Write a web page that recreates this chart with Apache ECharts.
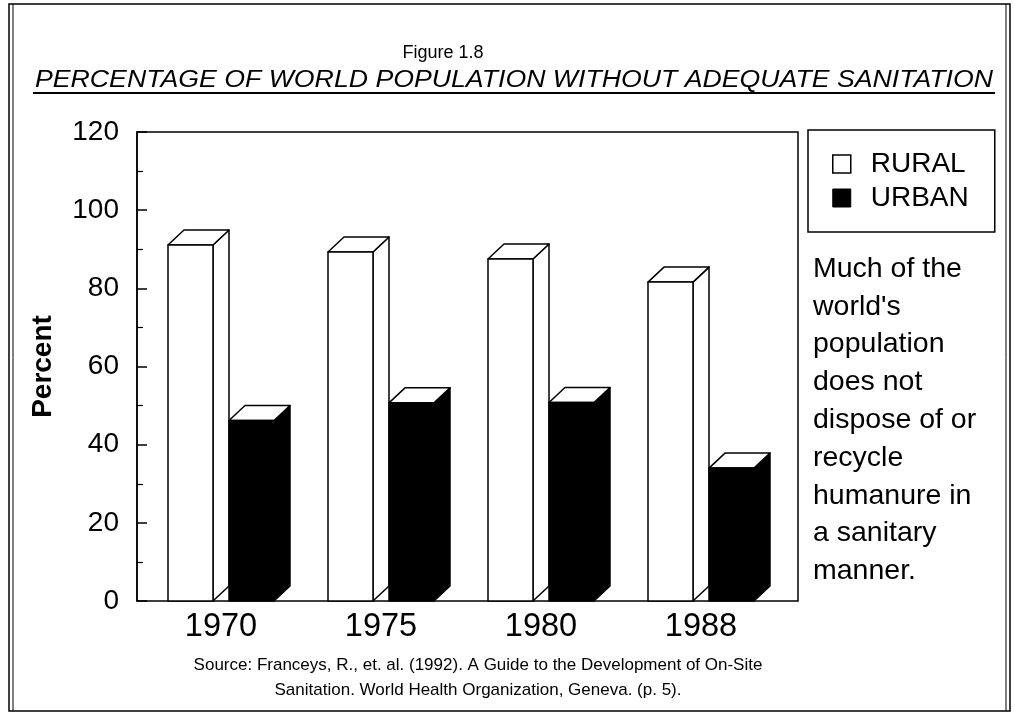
<!DOCTYPE html>
<html lang="en">
<head>
  <meta charset="UTF-8">
  <title>Figure 1.8</title>
  <style>
    html, body { margin: 0; padding: 0; background: #fff; }
  </style>
</head>
<body>
<div id="main" style="width: 1015px;height: 714px"></div>
<script type="text/javascript" src="https://cdn.jsdelivr.net/npm/echarts@6/dist/echarts.min.js"></script>

<script>
var years = ['1970', '1975', '1980', '1988'];
var rural = [91.1, 89.3, 87.5, 81.6];
var urban = [46.2, 50.7, 50.8, 34.0];
var seriesNames = ['RURAL', 'URBAN'];
var note = ['Much of the', "world's", 'population', 'does not', 'dispose of or',
  'recycle', 'humanure in', 'a sanitary', 'manner.'];

var FONT = "'Liberation Sans', Arial, sans-serif";
var BAR_W = 45, DX = 16, DY = 15;

// one pseudo-3D box: side, top and front faces
function box(x, yTop, yBase, frontColor, sideColor, topColor) {
  var st = { stroke: '#000', lineWidth: 1.5, lineJoin: 'round' };
  return [
    { type: 'polygon', shape: { points: [[x + BAR_W, yBase], [x + BAR_W + DX, yBase - DY], [x + BAR_W + DX, yTop - DY], [x + BAR_W, yTop]] },
      style: Object.assign({ fill: sideColor }, st) },
    { type: 'polygon', shape: { points: [[x, yTop], [x + DX, yTop - DY], [x + BAR_W + DX, yTop - DY], [x + BAR_W, yTop]] },
      style: Object.assign({ fill: topColor }, st) },
    { type: 'rect', shape: { x: x, y: yTop, width: BAR_W, height: yBase - yTop },
      style: Object.assign({ fill: frontColor }, st) }
  ];
}

function makeRender(shift, front, side, top) {
  return function (params, api) {
    var p = api.coord([api.value(0), api.value(1)]);
    var base = api.coord([api.value(0), 0]);
    return { type: 'group', children: box(p[0] + shift, p[1], base[1], front, side, top) };
  };
}

var option = {
  animation: false,
  textStyle: { fontFamily: FONT, color: '#000' },
  title: [
    { text: 'Figure 1.8', left: 438, top: 39, textAlign: 'center',
      textStyle: { fontSize: 18, fontWeight: 'normal', fontFamily: FONT, color: '#000' } }
  ],
  legend: {
    orient: 'vertical',
    left: 808, top: 130,
    padding: [20, 26, 20, 24],
    borderColor: '#000', borderWidth: 1.5,
    itemWidth: 18, itemHeight: 18, itemGap: 6,
    textStyle: { fontSize: 28, lineHeight: 28, fontFamily: FONT, color: '#000', padding: [0, 0, 0, 15] },
    data: [
      { name: seriesNames[0], icon: 'rect', itemStyle: { color: '#fff', borderColor: '#000', borderWidth: 1.5 } },
      { name: seriesNames[1], icon: 'rect', itemStyle: { color: '#000', borderColor: '#000', borderWidth: 1 } }
    ]
  },
  grid: [
    { left: 137, top: 132, width: 661, height: 469, show: true, borderColor: '#000', borderWidth: 1.5 },
    { left: 141, top: 132, width: 640, height: 469 }
  ],
  xAxis: [
    { gridIndex: 0, type: 'category', data: years, show: false },
    { gridIndex: 1, type: 'category', data: years,
      axisLine: { show: false }, axisTick: { show: false },
      axisLabel: { fontSize: 32.5, margin: 10, color: '#000', fontFamily: FONT } }
  ],
  yAxis: [
    { gridIndex: 0, type: 'value', min: 0, max: 120, interval: 20,
      name: 'Percent', nameLocation: 'middle', nameGap: 80, nameRotate: 90,
      nameTextStyle: { fontSize: 28, fontWeight: 'bold', fontFamily: FONT, color: '#000' },
      axisLine: { show: true, lineStyle: { color: '#000', width: 1.5 } },
      axisTick: { show: true, inside: true, length: 10, lineStyle: { color: '#000', width: 1.5 } },
      minorTick: { show: true, splitNumber: 2, length: 6, lineStyle: { color: '#000', width: 1.2 } },
      splitLine: { show: false },
      axisLabel: { fontSize: 28, margin: 18, color: '#000', fontFamily: FONT } },
    { gridIndex: 1, type: 'value', min: 0, max: 120, show: false }
  ],
  series: [
    { name: seriesNames[0], type: 'custom', xAxisIndex: 1, yAxisIndex: 1,
      itemStyle: { color: '#fff', borderColor: '#000' },
      renderItem: makeRender(-53, '#fff', '#fff', '#fff'),
      data: years.map(function (y, i) { return [i, rural[i]]; }) },
    { name: seriesNames[1], type: 'custom', xAxisIndex: 1, yAxisIndex: 1,
      itemStyle: { color: '#000' },
      renderItem: makeRender(8, '#000', '#000', '#fff'),
      data: years.map(function (y, i) { return [i, urban[i]]; }) }
  ],
  graphic: [
    { type: 'rect', shape: { x: 9, y: 4, width: 1001, height: 707 }, style: { fill: null, stroke: '#000', lineWidth: 1.5 } },
    { type: 'line', shape: { x1: 13, y1: 4, x2: 13, y2: 711 }, style: { stroke: '#000', lineWidth: 1 } },
    { type: 'line', shape: { x1: 1006, y1: 4, x2: 1006, y2: 711 }, style: { stroke: '#000', lineWidth: 1 } },
    { type: 'text', x: 514, y: 81, scaleX: 1.16,
      style: { text: 'PERCENTAGE OF WORLD POPULATION WITHOUT ADEQUATE SANITATION', fontSize: 23,
        fontStyle: 'italic', fontFamily: FONT, fill: '#000', align: 'center', verticalAlign: 'middle' } },
    { type: 'line', shape: { x1: 33, y1: 93, x2: 995, y2: 93 }, style: { stroke: '#000', lineWidth: 1.8 } },
    { type: 'text', left: 813, top: 250,
      style: { text: note.join('\n'), fontSize: 28.5, lineHeight: 37.8, fontFamily: FONT, fill: '#000' } },
    { type: 'text', x: 478, y: 653,
      style: { text: 'Source: Franceys, R., et. al. (1992). A Guide to the Development of On-Site\nSanitation. World Health Organization, Geneva. (p. 5).',
        fontSize: 17, lineHeight: 25, fontFamily: FONT, fill: '#000', align: 'center' } }
  ]
};

var myChart = echarts.init(document.getElementById('main'));
myChart.setOption(option);
</script>
</body>
</html>
